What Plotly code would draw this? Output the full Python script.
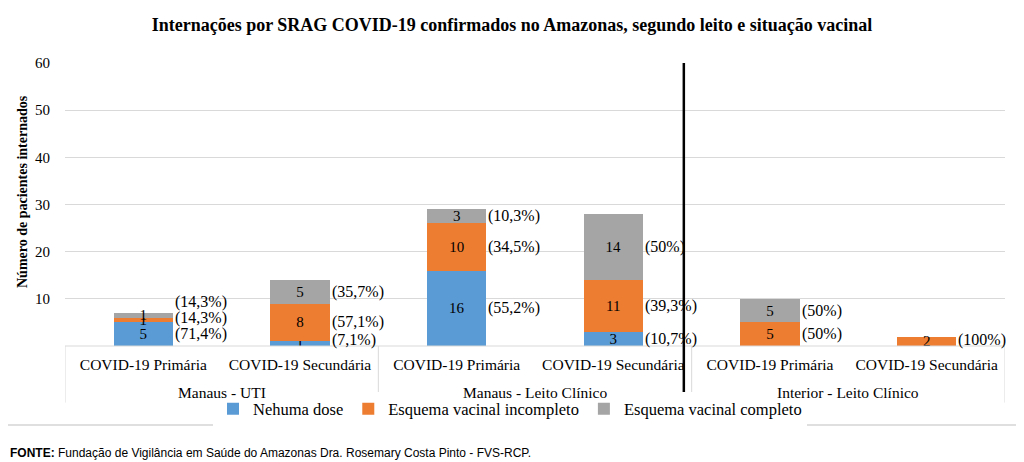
import plotly.graph_objects as go

# ---- data ----
categories = ["COVID-19 Primária", "COVID-19 Secundária",
              "COVID-19 Primária", "COVID-19 Secundária",
              "COVID-19 Primária", "COVID-19 Secundária"]
groups = ["Manaus - UTI", "Manaus - Leito Clínico", "Interior - Leito Clínico"]
nenhuma = [5, 1, 16, 3, 0, 0]
incompleto = [1, 8, 10, 11, 5, 2]
completo = [1, 5, 3, 14, 5, 0]
series_names = ["Nehuma dose", "Esquema vacinal incompleto", "Esquema vacinal completo"]
y_ticks = [10, 20, 30, 40, 50, 60]

title = "Internações por SRAG COVID-19 confirmados no Amazonas, segundo leito e situação vacinal"
y_title = "Número de pacientes internados"
source = "<b>FONTE:</b> Fundação de Vigilância em Saúde do Amazonas Dra. Rosemary Costa Pinto - FVS-RCP."

colors = ["#5B9BD5", "#ED7D31", "#A5A5A5"]
SERIF = "Liberation Serif, Times New Roman, serif"
BAR_W = 0.38

x = list(range(len(categories)))
series = [nenhuma, incompleto, completo]

fig = go.Figure()
for vals, name, col in zip(series, series_names, colors):
    fig.add_trace(go.Bar(
        x=x, y=vals, name=name, marker=dict(color=col, line=dict(width=0)),
        width=BAR_W,
        text=[str(v) if v else "" for v in vals],
        textposition="inside", insidetextanchor="middle", textangle=0,
        textfont=dict(family=SERIF, size=15, color="black"),
        hoverinfo="skip",
    ))

def pct(v, tot):
    s = f"{v / tot * 100:.1f}".replace(".", ",")
    if s.endswith(",0"):
        s = s[:-2]
    return f"({s}%)"

annotations = []
GAP = 3.4
for i in x:
    tot = sum(s[i] for s in series)
    base = 0
    prev = None
    for s in series:
        v = s[i]
        if v:
            yy = max(base + v / 2, 1.2)
            if prev is not None:
                yy = max(yy, prev + GAP)
            prev = yy
            annotations.append(dict(
                x=i + BAR_W / 2, y=yy, xref="x", yref="y", text=pct(v, tot),
                xanchor="left", yanchor="middle", showarrow=False,
                font=dict(family=SERIF, size=16, color="black")))
        base += v

# group labels
for g, name in enumerate(groups):
    annotations.append(dict(
        x=2 * g + 0.5, y=-0.163, xref="x", yref="paper", text=name,
        xanchor="center", yanchor="middle", showarrow=False,
        font=dict(family=SERIF, size=15.5, color="black")))

# y axis title
annotations.append(dict(
    x=(22 - 65) / 940, y=(346 - 192) / 283, xref="paper", yref="paper",
    text=f"<b>{y_title}</b>", textangle=-90, xanchor="center", yanchor="middle",
    showarrow=False, font=dict(family=SERIF, size=14, color="black")))

annotations.append(dict(
    x=-0.0606, y=-0.378, xref="paper", yref="paper", text=source,
    xanchor="left", yanchor="middle", showarrow=False,
    font=dict(family="Liberation Sans", size=12, color="black")))

shapes = []
line_col = "#D9D9D9"
shapes.append(dict(type="line", xref="x", yref="paper", x0=-0.5, x1=5.5, y0=0, y1=0,
                   line=dict(color=line_col, width=1)))
for xb in [-0.5, 1.5, 3.5, 5.5]:
    shapes.append(dict(type="line", xref="x", yref="paper", x0=xb, x1=xb, y0=0, y1=-0.2,
                       line=dict(color=line_col, width=1)))
shapes.append(dict(type="line", xref="x", yref="paper", x0=3.45, x1=3.45, y0=1.0, y1=-0.19,
                   line=dict(color="black", width=2.5)))
shapes.append(dict(type="rect", xref="paper", yref="paper",
                   x0=(4 - 65) / 940, x1=(1018 - 65) / 940,
                   y0=(346 - 425) / 283, y1=(346 - 3) / 283,
                   line=dict(color="#BFBFBF", width=1), fillcolor="rgba(0,0,0,0)", layer="below"))

# page body has an 8px margin, so the figure is drawn 8px smaller
W, H = 1016, 454
fig.update_layout(
    width=W, height=H,
    margin=dict(l=57, r=19, t=55, b=116),
    paper_bgcolor="white", plot_bgcolor="white",
    barmode="stack",
    title=dict(text=f"<b>{title}</b>", x=(512 - 8) / W, xanchor="center", y=1 - (25 - 8) / H,
               yanchor="middle", font=dict(family=SERIF, size=18, color="black")),
    xaxis=dict(range=[-0.5, 5.5], tickvals=x, ticktext=categories, showgrid=False,
               showline=False, zeroline=False, ticks="", ticklabelstandoff=7,
               tickfont=dict(family=SERIF, size=15.5, color="black")),
    yaxis=dict(range=[0, 60], tickvals=y_ticks, showgrid=True, gridcolor=line_col, gridwidth=1,
               zeroline=False, showline=False, ticks="", ticklabelstandoff=14,
               tickfont=dict(family=SERIF, size=15, color="black")),
    legend=dict(orientation="h", x=(510 - 65) / 940, xanchor="center", y=-0.223, yanchor="middle",
                font=dict(family=SERIF, size=16.5, color="black"), traceorder="normal",
                itemsizing="constant"),
    uniformtext=dict(minsize=15, mode="show"),
    annotations=annotations, shapes=shapes,
)

fig.write_html("out.html")
